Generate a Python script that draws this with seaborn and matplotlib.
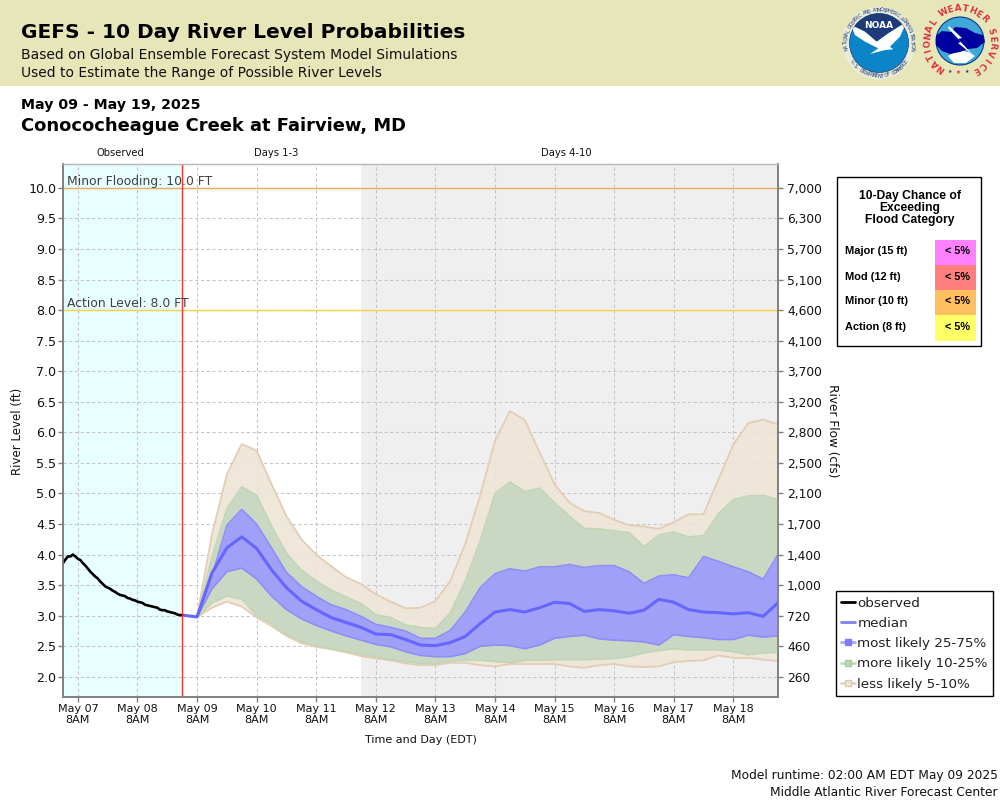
import numpy as np
import pandas as pd
import matplotlib
matplotlib.use('Agg')
import matplotlib.pyplot as plt
import seaborn as sns
from matplotlib.lines import Line2D
from matplotlib.patches import Circle, Polygon, Rectangle

# Observed river level, hourly from May 07 2AM
obs_level = [3.86, 3.92, 3.97, 3.97, 4.00, 3.97, 3.93, 3.91, 3.86, 3.82, 3.77, 3.72,
             3.68, 3.64, 3.61, 3.56, 3.52, 3.48, 3.46, 3.44, 3.41, 3.39, 3.36, 3.34,
             3.33, 3.32, 3.29, 3.28, 3.26, 3.25, 3.23, 3.22, 3.21, 3.18, 3.17, 3.16,
             3.15, 3.14, 3.13, 3.10, 3.09, 3.09, 3.07, 3.06, 3.05, 3.04, 3.02, 3.01, 3.01]

# Forecast series, 6 hourly from May 09 8AM
p95 = [2.99, 4.33, 5.31, 5.81, 5.70, 5.15, 4.63, 4.25, 4.00, 3.81, 3.63, 3.52, 3.35, 3.23,
       3.12, 3.13, 3.24, 3.57, 4.17, 4.96, 5.86, 6.35, 6.20, 5.67, 5.15, 4.85, 4.71, 4.68,
       4.57, 4.48, 4.46, 4.42, 4.53, 4.66, 4.66, 5.23, 5.80, 6.15, 6.21, 6.13]
p90 = [2.99, 3.97, 4.75, 5.11, 4.97, 4.47, 4.02, 3.75, 3.57, 3.42, 3.31, 3.20, 3.02, 2.97,
       2.85, 2.81, 2.79, 3.05, 3.57, 4.22, 5.00, 5.19, 5.03, 5.09, 4.85, 4.63, 4.43, 4.42,
       4.39, 4.36, 4.13, 4.32, 4.37, 4.29, 4.31, 4.67, 4.90, 4.96, 4.97, 4.90]
p75 = [2.99, 3.65, 4.48, 4.74, 4.50, 4.11, 3.71, 3.48, 3.32, 3.18, 3.10, 2.99, 2.86, 2.81,
       2.75, 2.63, 2.63, 2.76, 3.06, 3.46, 3.69, 3.77, 3.73, 3.80, 3.80, 3.84, 3.79, 3.82,
       3.82, 3.72, 3.53, 3.65, 3.67, 3.62, 3.97, 3.89, 3.80, 3.72, 3.60, 4.00]
median = [3.01, 2.98, 3.70, 4.11, 4.29, 4.10, 3.75, 3.46, 3.24, 3.10, 2.97, 2.89, 2.81, 2.70,
          2.69, 2.61, 2.52, 2.51, 2.56, 2.66, 2.87, 3.06, 3.10, 3.06, 3.13, 3.22, 3.20, 3.07,
          3.10, 3.08, 3.04, 3.09, 3.27, 3.22, 3.10, 3.06, 3.05, 3.03, 3.05, 2.99, 3.21]
p25 = [2.98, 3.44, 3.72, 3.78, 3.60, 3.32, 3.10, 2.95, 2.84, 2.75, 2.67, 2.60, 2.53, 2.49,
       2.41, 2.35, 2.33, 2.33, 2.38, 2.50, 2.52, 2.51, 2.46, 2.52, 2.63, 2.66, 2.68, 2.62,
       2.60, 2.59, 2.57, 2.52, 2.69, 2.66, 2.64, 2.61, 2.61, 2.68, 2.65, 2.67]
p10 = [2.98, 3.21, 3.32, 3.27, 3.00, 2.87, 2.69, 2.58, 2.51, 2.46, 2.42, 2.37, 2.33, 2.28,
       2.25, 2.22, 2.21, 2.26, 2.27, 2.27, 2.25, 2.23, 2.27, 2.27, 2.28, 2.28, 2.28, 2.29,
       2.30, 2.33, 2.39, 2.43, 2.46, 2.44, 2.44, 2.44, 2.41, 2.36, 2.39, 2.40]
p05 = [2.98, 3.13, 3.23, 3.15, 2.97, 2.83, 2.67, 2.55, 2.49, 2.45, 2.40, 2.34, 2.30, 2.27,
       2.22, 2.19, 2.19, 2.23, 2.23, 2.19, 2.17, 2.21, 2.21, 2.21, 2.21, 2.17, 2.15, 2.19,
       2.21, 2.17, 2.16, 2.17, 2.24, 2.26, 2.27, 2.35, 2.31, 2.31, 2.28, 2.26]

level_ticks = [10.0, 9.5, 9.0, 8.5, 8.0, 7.5, 7.0, 6.5, 6.0, 5.5, 5.0, 4.5, 4.0, 3.5, 3.0, 2.5, 2.0]
flow_labels = ['7,000', '6,300', '5,700', '5,100', '4,600', '4,100', '3,700', '3,200', '2,800',
               '2,500', '2,100', '1,700', '1,400', '1,000', '720', '460', '260']
day_labels = ['May 07', 'May 08', 'May 09', 'May 10', 'May 11', 'May 12',
              'May 13', 'May 14', 'May 15', 'May 16', 'May 17', 'May 18']

categories = ['Major (15 ft)', 'Mod (12 ft)', 'Minor (10 ft)', 'Action (8 ft)']
chances = ['< 5%', '< 5%', '< 5%', '< 5%']
category_colors = ['#ff80ff', '#ff7f7f', '#ffbf5f', '#ffff66']

obs_times = pd.date_range('2025-05-07 02:00', periods=len(obs_level), freq='h')
fc_times = pd.date_range('2025-05-09 08:00', periods=len(p95), freq='6h')
med_times = fc_times.insert(0, pd.Timestamp('2025-05-09 02:00'))
tick_times = pd.date_range('2025-05-07 08:00', periods=len(day_labels), freq='D')

sns.set_theme(style='white')
plt.rcParams['font.family'] = ['DejaVu Sans']

fig = plt.figure(figsize=(10, 8), dpi=100)
ax = fig.add_axes([63 / 1000, 1 - 697 / 800, 715 / 1000, 533 / 800])

# Background zones
ax.axvspan(pd.Timestamp('2025-05-07 02:00'), pd.Timestamp('2025-05-09 02:00'), color='#e8ffff', lw=0, zorder=0)
ax.axvspan(pd.Timestamp('2025-05-12 02:00'), pd.Timestamp('2025-05-19 02:00'), color='#efefef', lw=0, zorder=0)
ax.grid(True, color='#c4c4c4', linestyle=(0, (3, 2.5)), linewidth=0.75)
ax.set_axisbelow(True)

# Probability bands
ax.fill_between(fc_times, p05, p95, color='#efe5d8', alpha=0.9, lw=0, zorder=2)
ax.plot(fc_times, p95, color='#e3cdb4', lw=1.3, zorder=2)
ax.plot(fc_times, p05, color='#e3cdb4', lw=1.3, zorder=2)
ax.fill_between(fc_times, p10, p90, color='#c8d8c2', alpha=0.95, lw=0, zorder=3)
ax.plot(fc_times, p90, color='#bfd6b4', lw=1.1, zorder=3)
ax.plot(fc_times, p10, color='#bfd6b4', lw=1.1, zorder=3)
ax.fill_between(fc_times, p25, p75, color='#9f9ffa', alpha=0.98, lw=0, zorder=4)
ax.plot(fc_times, p75, color='#8c8cfa', lw=1.1, zorder=4)
ax.plot(fc_times, p25, color='#8c8cfa', lw=1.1, zorder=4)

sns.lineplot(x=med_times, y=median, ax=ax, color='#6666ff', lw=2.2, zorder=5)
sns.lineplot(x=obs_times, y=obs_level, ax=ax, color='black', lw=1.9, zorder=6)

ax.axvline(pd.Timestamp('2025-05-09 02:00'), color='#ff3030', lw=1.0, zorder=7)
ax.axhline(10.0, color='#f0a860', lw=1.0, zorder=1)
ax.axhline(8.0, color='#ffd040', lw=1.0, zorder=1)

ax.set_xlim(pd.Timestamp('2025-05-07 02:00'), pd.Timestamp('2025-05-19 02:00'))
ax.set_ylim(1.67, 10.39)
ax.set_xticks(tick_times)
ax.set_xticklabels([d + '\n8AM' for d in day_labels], fontsize=8, color='#111111', linespacing=1.15)
ax.set_yticks(level_ticks)
ax.set_yticklabels(['%.1f' % v for v in level_ticks], fontsize=9.1, color='#111111')
ax.set_xlabel('')
ax.set_ylabel('')
ax.tick_params(axis='both', direction='out', length=3.5, width=1, color='#808080', pad=1.5, bottom=True, left=True)

ax2 = ax.twinx()
ax2.set_ylim(1.67, 10.39)
ax2.set_yticks(level_ticks)
ax2.set_yticklabels(flow_labels, fontsize=8.8, color='#111111')
ax2.tick_params(axis='y', direction='out', length=3.5, width=1, color='#808080', pad=3, right=True)
ax2.grid(False)
for a in [ax, ax2]:
    for side, spine in a.spines.items():
        spine.set_color('#808080' if side != 'top' else '#b8b8b8')
        spine.set_linewidth(1.2 if side != 'top' else 0.9)

ax2.text(pd.Timestamp('2025-05-07 03:30'), 10.05, 'Minor Flooding: 10.0 FT', fontsize=8.9, color='#404040', zorder=8)
ax2.text(pd.Timestamp('2025-05-07 03:30'), 8.05, 'Action Level: 8.0 FT', fontsize=8.9, color='#404040', zorder=8)

# Overlay in pixel coordinates for header, table and logos
ov = fig.add_axes([0, 0, 1, 1], zorder=10)
ov.set_xlim(0, 1000)
ov.set_ylim(800, 0)
ov.axis('off')
ov.patch.set_alpha(0)

ov.add_patch(Rectangle((0, 0), 1000, 85.5, color='#e6e6b8', lw=0))
ov.text(21, 33, 'GEFS - 10 Day River Level Probabilities', fontsize=14.5, fontweight='bold', color='black', va='center')
ov.text(21, 54.5, 'Based on Global Ensemble Forecast System Model Simulations', fontsize=10, color='#111111', va='center')
ov.text(21, 73, 'Used to Estimate the Range of Possible River Levels', fontsize=10, color='#111111', va='center')
ov.text(21, 105, 'May 09 - May 19, 2025', fontsize=10.2, fontweight='bold', color='black', va='center')
ov.text(21, 126, 'Conococheague Creek at Fairview, MD', fontsize=12.9, fontweight='bold', color='black', va='center')

ov.text(120, 153.5, 'Observed', fontsize=7.2, ha='center', va='center', color='#111111')
ov.text(276.5, 153.5, 'Days 1-3', fontsize=7.2, ha='center', va='center', color='#111111')
ov.text(566, 153.5, 'Days 4-10', fontsize=7.2, ha='center', va='center', color='#111111')

ov.text(18, 431, 'River Level (ft)', fontsize=8.5, rotation=90, ha='center', va='center', color='#111111')
ov.text(832, 431, 'River Flow (cfs)', fontsize=8.7, rotation=-90, ha='center', va='center', color='#111111')
ov.text(421, 740, 'Time and Day (EDT)', fontsize=8, ha='center', va='center', color='#111111')
ov.text(998, 776, 'Model runtime: 02:00 AM EDT May 09 2025', fontsize=8.8, ha='right', va='center', color='#111111')
ov.text(998, 792, 'Middle Atlantic River Forecast Center', fontsize=8.8, ha='right', va='center', color='#111111')

# Flood category table
ov.add_patch(Rectangle((836.5, 176.5), 144, 169, facecolor='white', edgecolor='black', lw=1))
ov.text(910, 208, '10-Day Chance of\nExceeding\nFlood Category', fontsize=8.7, fontweight='bold',
        family='Liberation Sans', ha='center', va='center', linespacing=1.05, color='black')
for i, (cat, chance, col) in enumerate(zip(categories, chances, category_colors)):
    top = 240 + 25 * i
    ov.add_patch(Rectangle((935, top), 41, 26 if i == 3 else 25, color=col, lw=0))
    ov.text(845, top + 11.5, cat, fontsize=7.9, fontweight='bold', family='Liberation Sans', va='center', color='black')
    ov.text(970, top + 11.5, chance, fontsize=7.8, fontweight='bold', family='Liberation Sans', ha='right', va='center', color='black')

# Legend
handles = [
    Line2D([], [], color='black', lw=2),
    Line2D([], [], color='#8080ff', lw=2),
    Line2D([], [], color='#a8a8fa', lw=2, marker='s', ms=5, mfc='#7c7cf8', mec='#7c7cf8'),
    Line2D([], [], color='#c4dcb8', lw=2, marker='s', ms=5, mfc='#bcd8b0', mec='#a8cc9c'),
    Line2D([], [], color='#e8d4bc', lw=2, marker='s', ms=5, mfc='#efe5d8', mec='#e0c8ac'),
]
leg = ov.legend(handles, ['observed', 'median', 'most likely 25-75%', 'more likely 10-25%', 'less likely 5-10%'],
                loc='upper left', bbox_to_anchor=(835.5, 591), bbox_transform=ov.transData, borderaxespad=0,
                fontsize=9.7, frameon=True, fancybox=False, framealpha=1, edgecolor='black',
                handlelength=1.0, handletextpad=0.2, borderpad=0.42, labelspacing=0.54, labelcolor='#222222')
leg.get_frame().set_linewidth(1)


def ring_text(cx, cy, r, text, start, end, **kw):
    # one character at a time round a circle, angles in degrees (y pointing up)
    top = kw.pop('top', True)
    for ch, ang in zip(text, np.linspace(start, end, len(text))):
        t = np.deg2rad(ang)
        ov.text(cx + r * np.cos(t), cy - r * np.sin(t), ch, rotation=ang - 90 if top else ang + 90,
                ha='center', va='center', rotation_mode='anchor', **kw)


def zoom_px(points):
    return [(835 + x / 3, y / 3) for x, y in points]


# NOAA logo
noaa_c = (879, 43)
ov.add_patch(Circle(noaa_c, 36.5, facecolor='#e9ecd8', edgecolor='none'))
disc = Circle(noaa_c, 29.5, facecolor='#0b85c8', edgecolor='#1f3a78', lw=0.5)
ov.add_patch(disc)
top_part = Polygon(zoom_px([(30, 20), (235, 20), (215, 65), (160, 100), (125, 125), (90, 95), (48, 75)]), color='#1f3a78', lw=0)
ov.add_patch(top_part)
top_part.set_clip_path(disc)
bird = Polygon(zoom_px([(48, 75), (90, 95), (125, 125), (160, 100), (215, 65), (195, 110), (165, 140), (175, 148),
                        (150, 150), (105, 162), (130, 145), (90, 125), (60, 105)]), color='white', lw=0)
ov.add_patch(bird)
bird.set_clip_path(disc)
ov.text(879, 25.5, 'NOAA', fontsize=6.5, fontweight='bold', color='white', ha='center', va='center')
ring_text(879, 43, 33, 'NATIONAL OCEANIC AND ATMOSPHERIC ADMINISTRATION', 190, -10, fontsize=3.6, color='#1f3a78')
ring_text(879, 43, 33, 'U.S. DEPARTMENT OF COMMERCE', 215, 325, top=False, fontsize=3.6, color='#1f3a78')

# NWS logo
ov.add_patch(Circle((960, 41), 24, facecolor='#3fa8d8', edgecolor='#0a3a8a', lw=0.8))
ov.add_patch(Polygon([(948, 56), (958, 50), (968, 52), (975, 56), (966, 63), (954, 63)], color='white', lw=0))
ov.add_patch(Polygon([(936, 36), (942, 31), (951, 32), (955, 27), (966, 28), (975, 33), (983, 35), (985, 42), (977, 48),
                      (968, 49), (960, 52), (950, 54), (942, 51), (936, 45)], color='#0000a0', lw=0))
ov.add_patch(Polygon([(949, 26), (962, 38), (958, 39), (974, 56), (958, 43), (961, 42), (948, 28)], color='white', lw=0))
ring_text(960, 41, 32.5, 'NATIONAL WEATHER SERVICE', 235, -60, fontsize=6.2, fontweight='bold', color='#e03040')
ov.text(950, 71, '★', fontsize=3.5, color='#1f3a8a', ha='center', va='center')
ov.text(958.5, 72, '★', fontsize=4, color='#e03040', ha='center', va='center')
ov.text(967, 71, '★', fontsize=3.5, color='#1f3a8a', ha='center', va='center')

fig.savefig('out.png', dpi=100)
